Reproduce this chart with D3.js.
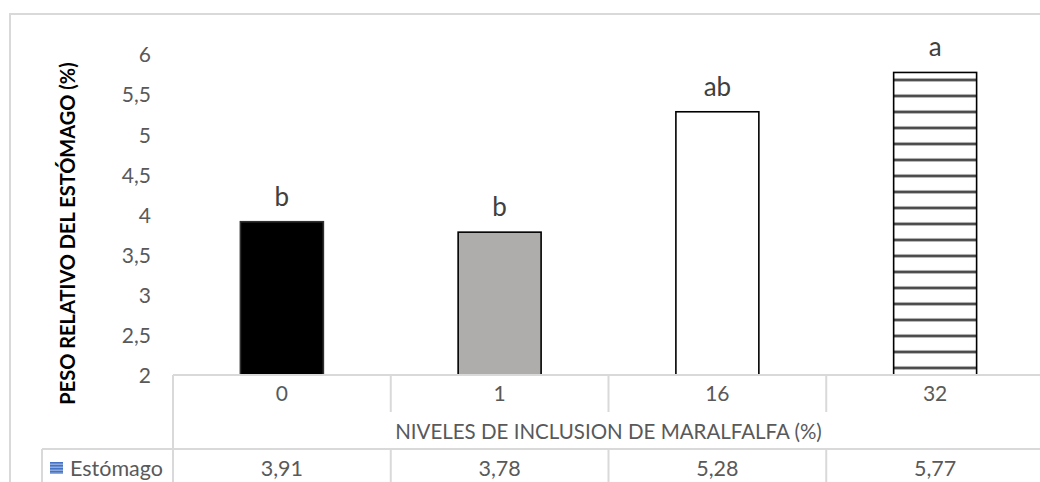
<!DOCTYPE html>
<html>
<head>
<meta charset="utf-8">
<script src="https://cdn.jsdelivr.net/npm/d3@7/dist/d3.min.js"></script>
<style>
  html, body { margin: 0; padding: 0; background: #fff; }
  svg { display: block; font-family: Lato, "Open Sans", sans-serif; }
</style>
</head>
<body>
<svg id="chart" width="1040" height="482"></svg>
<script>
// ---- data ----
const categories = ["0", "1", "16", "32"];
const values = [3.91, 3.78, 5.28, 5.77];
const letters = ["b", "b", "ab", "a"];
const yTicks = [2, 2.5, 3, 3.5, 4, 4.5, 5, 5.5, 6];
const seriesName = "Estómago";
const xTitle = "NIVELES DE INCLUSION DE MARALFALFA (%)";
const yTitle = "PESO RELATIVO DEL ESTÓMAGO (%)";

// ---- styles ----
const barFills = ["#000000", "#aeadab", "#ffffff", "url(#hstripes)"];
const gridColor = "#d9d9d9";
const textColor = "#595959";

const locale = d3.formatLocale({ decimal: ",", thousands: ".", grouping: [3], currency: ["", ""] });
const fmtTick = locale.format(".1~f");
const fmtVal = locale.format(".2f");

const svg = d3.select("#chart");

// layout
const plotLeft = 173, plotRight = 1044, plotTop = 54, plotBottom = 375;
const row1 = 412, row2 = 449, row3 = 490, legendLeft = 42;

const xCol = d3.scaleBand().domain(categories).range([plotLeft, plotRight]);
const xBar = d3.scaleBand().domain(categories).range([plotLeft, plotRight])
  .paddingInner(0.619).paddingOuter(0.3095);
const y = d3.scaleLinear().domain([2, 6]).range([plotBottom, plotTop]);

// patterns
const defs = svg.append("defs");
const topBar = y(values[3]);
const pat = defs.append("pattern").attr("id", "hstripes")
  .attr("patternUnits", "userSpaceOnUse").attr("width", 8).attr("height", 16)
  .attr("y", topBar + 7.5 - 8);
pat.append("rect").attr("width", 8).attr("height", 16).attr("fill", "#fff");
pat.append("rect").attr("y", 6).attr("width", 8).attr("height", 4).attr("fill", "#cfcfcf");
pat.append("rect").attr("y", 6.8).attr("width", 8).attr("height", 2.4).attr("fill", "#4a4a4a");

const lpat = defs.append("pattern").attr("id", "legstripes")
  .attr("patternUnits", "userSpaceOnUse").attr("width", 4).attr("height", 3);
lpat.append("rect").attr("width", 4).attr("height", 3).attr("fill", "#8faadc");
lpat.append("rect").attr("width", 4).attr("height", 1.5).attr("fill", "#4472c4");

// outer chart border
svg.append("rect").attr("x", 10).attr("y", 14).attr("width", 1100).attr("height", 600)
  .attr("fill", "none").attr("stroke", gridColor).attr("stroke-width", 2);

// y axis (labels only)
const yAxis = d3.axisLeft(y).tickValues(yTicks).tickFormat(fmtTick).tickSize(0).tickPadding(22);
const gy = svg.append("g").attr("transform", `translate(${plotLeft},0)`).call(yAxis);
gy.select(".domain").remove();
gy.selectAll("text").attr("font-family", "Lato, sans-serif").attr("font-size", 21)
  .attr("fill", textColor).attr("dy", "0.37em");

// y title
svg.append("text")
  .attr("transform", `translate(75,${(57 + 410) / 2}) rotate(-90)`)
  .attr("text-anchor", "middle")
  .attr("font-weight", "bold").attr("font-size", 20).attr("fill", "#000")
  .text(yTitle);

// bars
svg.append("g").selectAll("rect").data(categories).join("rect")
  .attr("x", d => xBar(d))
  .attr("width", xBar.bandwidth())
  .attr("y", (d, i) => y(values[i]))
  .attr("height", (d, i) => y(2) - y(values[i]))
  .attr("fill", (d, i) => barFills[i])
  .attr("stroke", (d, i) => i === 0 ? "#303030" : "#000")
  .attr("stroke-width", 1.6);

// letters
svg.append("g").selectAll("text").data(categories).join("text")
  .attr("x", d => xBar(d) + xBar.bandwidth() / 2)
  .attr("y", (d, i) => y(values[i]) - 16)
  .attr("text-anchor", "middle")
  .attr("font-size", 26).attr("fill", "#404040")
  .text((d, i) => letters[i]);

// table lines
const lines = svg.append("g").attr("stroke", gridColor).attr("stroke-width", 2);
lines.append("line").attr("x1", plotLeft).attr("x2", plotRight).attr("y1", plotBottom).attr("y2", plotBottom);
lines.append("line").attr("x1", legendLeft).attr("x2", plotRight).attr("y1", row2).attr("y2", row2);
const bounds = categories.map(c => xCol(c)).concat([plotRight]);
lines.selectAll(".v1").data(bounds).join("line").attr("class", "v1")
  .attr("x1", d => d).attr("x2", d => d).attr("y1", plotBottom).attr("y2", row1);
lines.append("line").attr("x1", plotLeft).attr("x2", plotLeft).attr("y1", plotBottom).attr("y2", row3);
lines.selectAll(".v3").data(bounds).join("line").attr("class", "v3")
  .attr("x1", d => d).attr("x2", d => d).attr("y1", row2).attr("y2", row3);
lines.append("line").attr("x1", legendLeft).attr("x2", legendLeft).attr("y1", row2).attr("y2", row3);

// category labels via bottom axis
const xAxis = d3.axisBottom(xCol).tickSize(0).tickPadding(0);
const gx = svg.append("g").attr("transform", `translate(0,${(plotBottom + row1) / 2})`).call(xAxis);
gx.select(".domain").remove();
gx.selectAll("text").attr("font-family", "Lato, sans-serif").attr("font-size", 21)
  .attr("fill", textColor).attr("dy", "0.36em");

// x title
svg.append("text")
  .attr("x", (plotLeft + plotRight) / 2).attr("y", (row1 + row2) / 2 + 1)
  .attr("text-anchor", "middle").attr("dy", "0.36em")
  .attr("font-size", 20.5).attr("fill", textColor)
  .text(xTitle);

// data row values
svg.append("g").selectAll("text").data(categories).join("text")
  .attr("x", d => xCol(d) + xCol.bandwidth() / 2)
  .attr("y", 468)
  .attr("text-anchor", "middle").attr("dy", "0.36em")
  .attr("font-size", 21.5).attr("fill", textColor)
  .text((d, i) => fmtVal(values[i]));

// legend key + series name
svg.append("rect").attr("x", 50).attr("y", 462).attr("width", 13).attr("height", 12)
  .attr("fill", "url(#legstripes)");
svg.append("text").attr("x", 70).attr("y", 468).attr("dy", "0.36em")
  .attr("font-size", 21.5).attr("fill", textColor).text(seriesName);
</script>
</body>
</html>
